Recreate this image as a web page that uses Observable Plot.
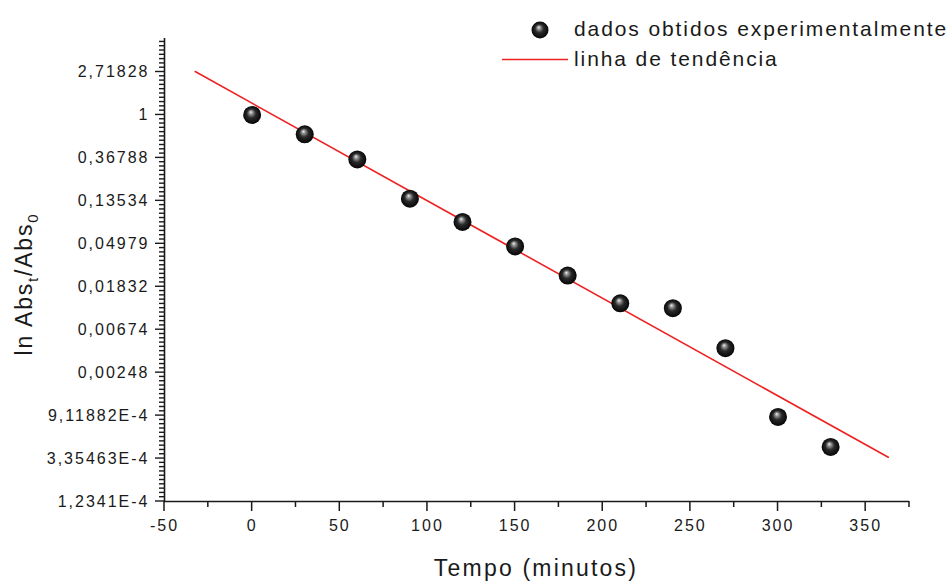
<!DOCTYPE html>
<html>
<head>
<meta charset="utf-8">
<script src="https://cdn.jsdelivr.net/npm/d3@7"></script>
<script src="https://cdn.jsdelivr.net/npm/@observablehq/plot@0.6"></script>
<style>
  html, body { margin: 0; padding: 0; background: #fff; }
  #chart svg text { letter-spacing: 2px; }
</style>
</head>
<body>
<div id="chart"></div>
<script>
// Measured points: time (min) and ln(Abs_t/Abs_0)
const times = [0, 30, 60, 90, 120, 150, 180, 210, 240, 270, 300, 330];
const lnRatio = [0, -0.45, -1.035, -1.95, -2.49, -3.06, -3.74, -4.385, -4.50, -5.43, -7.03, -7.73];

// Trend line endpoints
const trendTimes = [-32.5, 362.9];
const trendLn = [1.01, -7.97];

// Axis ticks
const xTicks = [-50, 0, 50, 100, 150, 200, 250, 300, 350];
const xMinorTicks = [-25, 25, 75, 125, 175, 225, 275, 325, 375];
const yTicks = [1, 0, -1, -2, -3, -4, -5, -6, -7, -8, -9];
const yTickLabels = ["2,71828", "1", "0,36788", "0,13534", "0,04979", "0,01832", "0,00674", "0,00248", "9,11882E-4", "3,35463E-4", "1,2341E-4"];

const xLabel = "Tempo (minutos)";
const legendLabels = ["dados obtidos experimentalmente", "linha de tendência"];

const points = times.map((t, i) => ({t, v: lnRatio[i]}));
const trend = trendTimes.map((t, i) => ({t, v: trendLn[i]}));
const yLabelMap = new Map(yTicks.map((d, i) => [d, yTickLabels[i]]));
const yMinorTicks = d3.range(-90, 18).map(k => k / 10).filter(v => Math.abs(v - Math.round(v)) > 1e-6);

const ink = "#1a1a1a";
const xMin = -50, yMin = -9;

// tick marks drawn as thin filled rects hanging outside the frame
const xTickRect = (data, len) => Plot.rect(data, {
  x1: d => d, x2: d => d, y1: yMin, y2: yMin,
  insetLeft: -0.75, insetRight: -0.75, insetTop: 0, insetBottom: -len,
  fill: ink
});
const yTickRect = (data, len) => Plot.rect(data, {
  y1: d => d, y2: d => d, x1: xMin, x2: xMin,
  insetTop: -0.7, insetBottom: -0.7, insetLeft: -len, insetRight: 0,
  fill: ink
});

const svg = Plot.plot({
  width: 952,
  height: 582,
  marginLeft: 164,
  marginRight: 43,
  marginTop: 38,
  marginBottom: 81,
  x: {domain: [xMin, 375]},
  y: {domain: [yMin, 1.78]},
  style: {fontFamily: "'Liberation Sans', Arial, sans-serif", fontSize: "16px", color: ink, background: "#fff"},
  marks: [
    Plot.axisX({ticks: xTicks, tickSize: 0, tickPadding: 18, tickFormat: d => String(d), label: null}),
    Plot.axisY({ticks: yTicks, tickSize: 0, tickPadding: 15, tickFormat: d => yLabelMap.get(d), label: null}),
    xTickRect(xMinorTicks, 6),
    xTickRect(xTicks, 10),
    yTickRect(yMinorTicks, 5),
    yTickRect(yTicks, 9),
    Plot.ruleX([xMin], {stroke: ink, strokeWidth: 1.6}),
    Plot.ruleY([yMin], {stroke: ink, strokeWidth: 1.6}),
    Plot.line(trend, {x: "t", y: "v", stroke: "#ee2222", strokeWidth: 1.6}),
    Plot.dot(points, {x: "t", y: "v", r: 9, fill: "url(#ball)"})
  ]
});

const s = d3.select(svg);
const defs = s.append("defs");
const g = defs.append("radialGradient").attr("id", "ball")
  .attr("cx", "0.5").attr("cy", "0.5").attr("r", "0.5")
  .attr("fx", "0.42").attr("fy", "0.33");
g.append("stop").attr("offset", "0").attr("stop-color", "#f4f4f4");
g.append("stop").attr("offset", "0.18").attr("stop-color", "#9a9a9a");
g.append("stop").attr("offset", "0.5").attr("stop-color", "#2a2a2a");
g.append("stop").attr("offset", "1").attr("stop-color", "#050505");

// X axis title
s.append("text")
  .attr("x", 536).attr("y", 576)
  .attr("text-anchor", "middle")
  .attr("fill", ink)
  .style("font-size", "23px")
  .style("letter-spacing", "2.2px")
  .text(xLabel);

// Y axis title with subscripts
const yt = s.append("text")
  .attr("transform", "translate(32,284) rotate(-90)")
  .attr("text-anchor", "middle")
  .attr("fill", ink)
  .style("font-size", "23px")
  .style("letter-spacing", "1.8px");
yt.append("tspan").text("ln Abs");
yt.append("tspan").attr("dy", "6").style("font-size", "15px").text("t");
yt.append("tspan").attr("dy", "-6").text("/Abs");
yt.append("tspan").attr("dy", "6").style("font-size", "15px").text("0");

// Legend
const lg = s.append("g").attr("text-anchor", "start");
lg.append("circle").attr("cx", 540).attr("cy", 30).attr("r", 8.5).attr("fill", "url(#ball)");
lg.append("text").attr("x", 574).attr("y", 36).attr("fill", ink).attr("text-anchor", "start")
  .style("font-size", "21px").style("letter-spacing", "1.9px").text(legendLabels[0]);
lg.append("line").attr("x1", 502).attr("x2", 568).attr("y1", 59.5).attr("y2", 59.5)
  .attr("stroke", "#ee2222").attr("stroke-width", 1.6);
lg.append("text").attr("x", 574).attr("y", 66).attr("fill", ink).attr("text-anchor", "start")
  .style("font-size", "21px").style("letter-spacing", "1.9px").text(legendLabels[1]);

document.getElementById("chart").appendChild(svg);
</script>
</body>
</html>
